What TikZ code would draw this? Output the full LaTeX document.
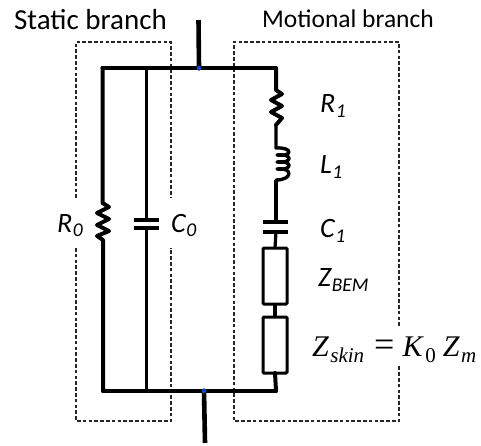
\documentclass[tikz,border=0pt]{standalone}
\usepackage{fontspec}
\setmainfont{Carlito}
\newfontfamily\eqfont{Liberation Serif}
\newcommand{\lowsub}[1]{\kern.5pt\raisebox{-5pt}{\fontsize{19.5}{22}\selectfont #1}}
\newcommand{\eqsub}[1]{\kern1.5pt\raisebox{-6pt}{\fontsize{21}{24}\selectfont #1}}
\begin{document}
\begin{tikzpicture}[x=1pt,y=-1pt,
  wire/.style={line width=4pt,line cap=round,line join=round,black},
  thin wire/.style={line width=3.2pt,line cap=butt,line join=round,black},
  plate/.style={line width=3.2pt,line cap=butt,black},
  fence/.style={line width=1.1pt,dash pattern=on 3.6pt off 2.2pt,black!85},
  imped/.style={draw=black,line width=3pt,rounded corners=1pt,minimum width=24pt,inner sep=0pt,outer sep=0pt,fill=none},
  junction/.style={circle,fill=blue!70!cyan,draw=black!80,line width=.4pt,minimum size=4.5pt,inner sep=0pt},
  val/.style={font=\itshape\fontsize{28}{30}\selectfont,anchor=base west,inner sep=0pt}]
\useasboundingbox (0,0) rectangle (481,446);
% dashed fences
\draw[fence] (76,198) -- (76,42) -- (171,42) -- (171,198);
\draw[fence] (76,248) -- (76,421) -- (171,421) -- (171,248);
\draw[fence] (399,326) -- (399,42) -- (234,42) -- (234,421) -- (399,421) -- (399,365);
% named points
\coordinate (tl) at (102.5,68);
\coordinate (tc) at (146.5,68);
\coordinate (tr) at (276,68);
\coordinate (bl) at (103,391);
\coordinate (bc) at (146.5,391);
\coordinate (br) at (276,391);
\coordinate (in) at (198.5,20);
\coordinate (out) at (205,443);
\node[junction] (jt) at (199,68) {};
\node[junction] (jb) at (204,391) {};
\node[imped,minimum height=56pt] (zbem) at (275,276) {};
\node[imped,minimum height=56pt] (zskin) at (275,345) {};
% rails
\draw[wire] (tl) -- (jt) -- (tr);
\draw[wire] (bl) -- (jb) -- (br);
\draw[line width=4.6pt] (in) -- (jt.center);
\draw[line width=4.6pt] (jb.center) -- (out);
\node[junction] at (jt) {};
\node[junction] at (jb) {};
% static: R0
\coordinate (r0a) at (102.5,203);
\coordinate (r0b) at (103,240);
\draw[wire] (tl) -- (r0a) -- (109,207) -- (97,213) -- (109,219) -- (97,225) -- (109,231) -- (97,236) -- (r0b) -- (bl);
% static: C0
\coordinate (c0a) at (146.5,220);
\coordinate (c0b) at (146.5,228);
\draw[thin wire] (tc) -- (c0a);
\draw[thin wire] (c0b) -- (bc);
\draw[plate] (134,220) -- (159,220);
\draw[plate] (134,228) -- (159,228);
% motional: R1
\coordinate (r1a) at (276,90);
\coordinate (r1b) at (276,125);
\draw[wire] (tr) -- (r1a) -- (282,94) -- (271,100) -- (282,106) -- (271,112) -- (282,118) -- (r1b);
% motional: L1
\coordinate (l1a) at (276,148);
\coordinate (l1b) at (276,180);
\draw[wire,line width=3.4pt] (r1b) -- (l1a)
  .. controls (293,147) and (293,157) .. (277,155)
  .. controls (293,153) and (293,164) .. (277,162)
  .. controls (293,160) and (293,171) .. (277,169)
  .. controls (293,167) and (293,180) .. (l1b);
% motional: C1
\coordinate (c1a) at (276,222);
\coordinate (c1b) at (276,232);
\draw[thin wire] (l1b) -- (c1a);
\draw[plate] (263,222) -- (288,222);
\draw[plate] (263,232) -- (288,232);
\draw[thin wire] (c1b) -- (zbem.north);
\draw[thin wire] (zbem.south) -- (zskin.north);
\draw[wire] (zskin.south) -- (br);
% labels
\node[font=\fontsize{29}{32}\selectfont,anchor=base,inner sep=0pt] (hs) at (90.5,30) {Static branch};
\node[font=\fontsize{25.5}{28}\selectfont,anchor=base,inner sep=0pt] (hm) at (348,28) {Motional branch};
\node[val] (lr0) at (57,232) {R\lowsub{0}};
\node[val] (lc0) at (171,232) {C\lowsub{0}};
\node[val] (lr1) at (320,113) {R\lowsub{1}};
\node[val] (ll1) at (320,174) {L\lowsub{1}};
\node[val] (lc1) at (320,237) {C\lowsub{1}};
\node[val] (lz) at (318,286) {Z\lowsub{BEM}};
\node[anchor=base west,inner sep=0pt,font=\eqfont\fontsize{30}{33}\selectfont] (lzs) at (312,356) {\textit{Z\eqsub{skin}}\kern10pt{\fontsize{36}{33}\selectfont =}\kern8pt\textit{K}\eqsub{0}\kern7pt\textit{Z\eqsub{m}}};
\end{tikzpicture}
\end{document}
